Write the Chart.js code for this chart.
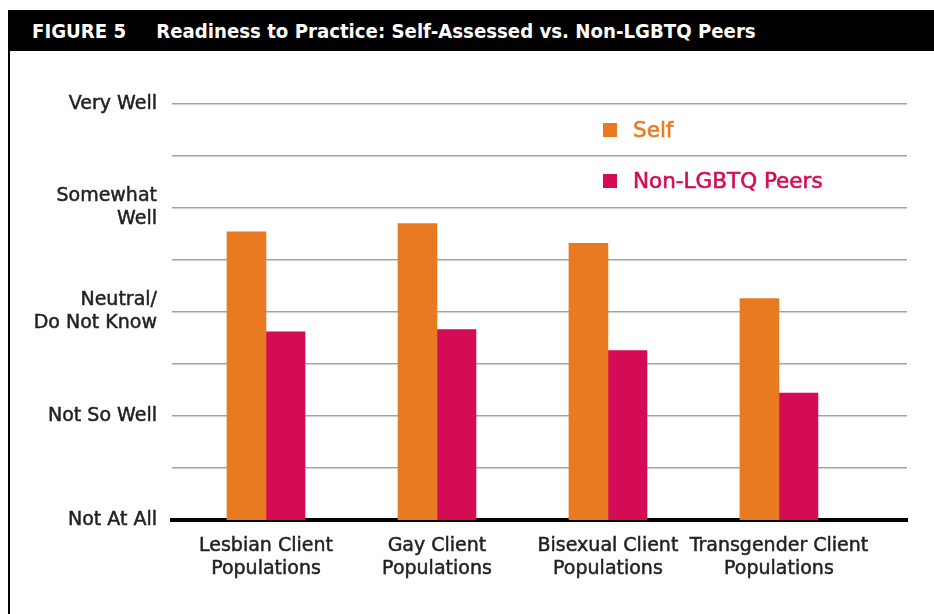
<!DOCTYPE html>
<html>
<head>
<meta charset="utf-8">
<script src="https://cdn.jsdelivr.net/npm/chart.js@4.4.1/dist/chart.umd.min.js"></script>
<style>
  html, body { margin: 0; padding: 0; background: #fff; }
  body { width: 934px; height: 614px; position: relative; overflow: hidden; }
  #titlebar {
    position: absolute; left: 8px; top: 10px; width: 926px; height: 41px;
    background: #000; color: #fff;
    font-family: "DejaVu Sans Condensed", "DejaVu Sans", sans-serif;
    font-stretch: condensed; font-weight: bold; font-size: 20.2px;
    line-height: 42px; white-space: nowrap;
  }
  #titlebar .fig { margin-left: 24px; margin-right: 30px; }
  #frame { position: absolute; left: 8px; top: 51px; width: 2px; height: 563px; background: #000; }
  #wrap { position: absolute; left: 0; top: 0; width: 934px; height: 614px; }
</style>
</head>
<body>
<div id="titlebar"><span class="fig">FIGURE 5</span>Readiness to Practice: Self-Assessed vs. Non-LGBTQ Peers</div>
<div id="frame"></div>
<div id="wrap"><canvas id="chart" width="934" height="614"></canvas></div>
<script>
// ---- data ----
const categories = [
  ["Lesbian Client", "Populations"],
  ["Gay Client", "Populations"],
  ["Bisexual Client", "Populations"],
  ["Transgender Client", "Populations"],
];
const seriesNames = ["Self", "Non-LGBTQ Peers"];
const selfValues = [3.77, 3.85, 3.66, 3.13];
const peerValues = [2.81, 2.83, 2.63, 2.22];
// 1 = Not At All ... 5 = Very Well
const yTickLabels = [
  "Not At All",
  "Not So Well",
  ["Neutral/", "Do Not Know"],
  ["Somewhat", "Well"],
  "Very Well",
];

const ORANGE = "#e87b22";
const PINK = "#d40c55";
const TEXT = "#231f20";
const FONT = "'DejaVu Sans', sans-serif";

// legend drawn stacked, inside the plot
const stackedLegend = {
  id: "stackedLegend",
  afterDraw(chart) {
    const ctx = chart.ctx;
    ctx.save();
    ctx.font = "21.5px " + FONT;
    ctx.textBaseline = "middle";
    ctx.lineWidth = 0.6;
    chart.data.datasets.forEach((ds, i) => {
      const y = 130 + i * 51;
      ctx.fillStyle = ds.backgroundColor;
      ctx.strokeStyle = ds.backgroundColor;
      ctx.fillRect(603, y - 7, 14, 14);
      ctx.fillText(ds.label, 633, y + 1);
      ctx.strokeText(ds.label, 633, y + 1);
    });
    ctx.restore();
  },
};

const tickFont = { family: FONT, size: 19, lineHeight: 1.21 };

new Chart(document.getElementById("chart"), {
  type: "bar",
  data: {
    datasets: [
      {
        label: seriesNames[0],
        data: selfValues.map((v, i) => ({ x: i, y: v })),
        backgroundColor: ORANGE,
        barThickness: 39,
      },
      {
        label: seriesNames[1],
        data: peerValues.map((v, i) => ({ x: i, y: v })),
        backgroundColor: PINK,
        barThickness: 39,
      },
    ],
  },
  options: {
    responsive: false,
    animation: false,
    layout: { padding: { left: 0, right: 27, top: 104, bottom: 0 } },
    plugins: {
      legend: { display: false },
      tooltip: { enabled: false },
    },
    scales: {
      x: {
        type: "linear",
        offset: false,
        min: -0.5497,
        max: 3.749,
        afterBuildTicks: (scale) => {
          scale.ticks = categories.map((c, i) => ({ value: i }));
        },
        afterFit: (scale) => { scale.height = 94; },
        grid: { display: false, drawTicks: false },
        border: { display: true, color: "#000", width: 4 },
        ticks: {
          padding: 15,
          color: TEXT,
          textStrokeColor: TEXT,
          textStrokeWidth: 0.5,
          font: tickFont,
          maxRotation: 0,
          autoSkip: false,
          callback: (v) => categories[v] || "",
        },
      },
      y: {
        min: 1,
        max: 5,
        afterFit: (scale) => { scale.width = 172; },
        grid: { color: "#a3a3a3", lineWidth: 1.6, drawTicks: false },
        border: { display: false },
        ticks: {
          stepSize: 0.5,
          padding: 15,
          color: TEXT,
          textStrokeColor: TEXT,
          textStrokeWidth: 0.5,
          font: tickFont,
          callback: (v) => (Number.isInteger(v) ? yTickLabels[v - 1] : ""),
        },
      },
    },
  },
  plugins: [stackedLegend],
});
</script>
</body>
</html>
